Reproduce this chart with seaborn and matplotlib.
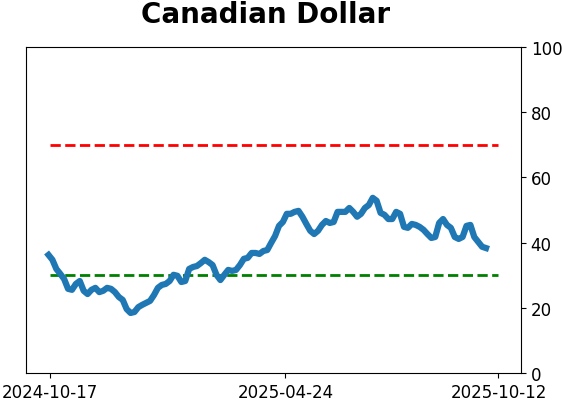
import matplotlib
matplotlib.use("Agg")
import matplotlib.pyplot as plt
import seaborn as sns
import pandas as pd
import numpy as np

title = "Canadian Dollar"
start_date = "2024-10-16"
line_end_date = "2025-10-02"
tick_dates = ["2024-10-17", "2025-04-24", "2025-10-12"]
upper_level = 70
lower_level = 30
values = [
    36.2, 34.7, 31.9, 30.4, 28.8, 25.8, 25.5, 27.3, 28.2, 25.2, 24.2, 25.5, 26.1,
    24.8, 25.2, 26.1, 25.8, 24.8, 23.3, 22.4, 19.6, 18.4, 18.7, 20.2, 20.9, 21.5,
    22.1, 23.9, 26.1, 27.0, 27.3, 28.2, 30.1, 29.8, 27.9, 28.2, 31.9, 32.5, 32.8,
    33.7, 34.7, 34.0, 33.1, 30.1, 28.5, 30.1, 31.6, 31.3, 31.6, 33.1, 35.0, 35.3,
    36.8, 36.8, 36.5, 37.4, 37.7, 39.9, 42.0, 45.1, 46.3, 48.8, 48.8, 49.4, 49.7,
    47.9, 45.7, 43.6, 42.6, 43.6, 45.4, 46.6, 46.0, 46.3, 49.4, 49.4, 49.4, 50.6,
    49.4, 47.9, 48.8, 50.6, 51.5, 53.7, 52.8, 49.1, 48.5, 47.2, 47.2, 49.4, 48.8,
    44.8, 44.5, 45.7, 45.4, 44.8, 43.9, 42.6, 41.4, 41.7, 46.0, 47.2, 45.4, 44.5,
    41.7, 41.1, 41.7, 45.1, 45.4, 41.7, 40.2, 38.7, 38.3,
]

dates = pd.date_range(start_date, line_end_date, periods=len(values))
df = pd.DataFrame({"date": dates, "value": values})
ref_dates = pd.to_datetime([tick_dates[0], tick_dates[-1]])
df_up = pd.DataFrame({"date": ref_dates, "value": [upper_level] * 2})
df_lo = pd.DataFrame({"date": ref_dates, "value": [lower_level] * 2})

fig = plt.figure(figsize=(5.62, 4.02), dpi=100)
ax = fig.add_axes([0.0463, 0.0697, 0.8807, 0.8113])
sns.lineplot(data=df_up, x="date", y="value", ax=ax, color="red", linewidth=2, linestyle="--")
sns.lineplot(data=df_lo, x="date", y="value", ax=ax, color="green", linewidth=2, linestyle="--")
sns.lineplot(data=df, x="date", y="value", ax=ax, color="#1f77b4", linewidth=4.5)

ax.set_ylim(0, 100)
ax.set_yticks([0, 20, 40, 60, 80, 100])
ax.yaxis.tick_right()
ax.set_xticks(pd.to_datetime(tick_dates))
ax.set_xticklabels(tick_dates)
ax.tick_params(labelsize=12)
ax.set_xlabel("")
ax.set_ylabel("")
ax.set_title(title, fontsize=20, fontweight="bold", pad=18, x=0.483)
fig.savefig("out.png", dpi=100)
